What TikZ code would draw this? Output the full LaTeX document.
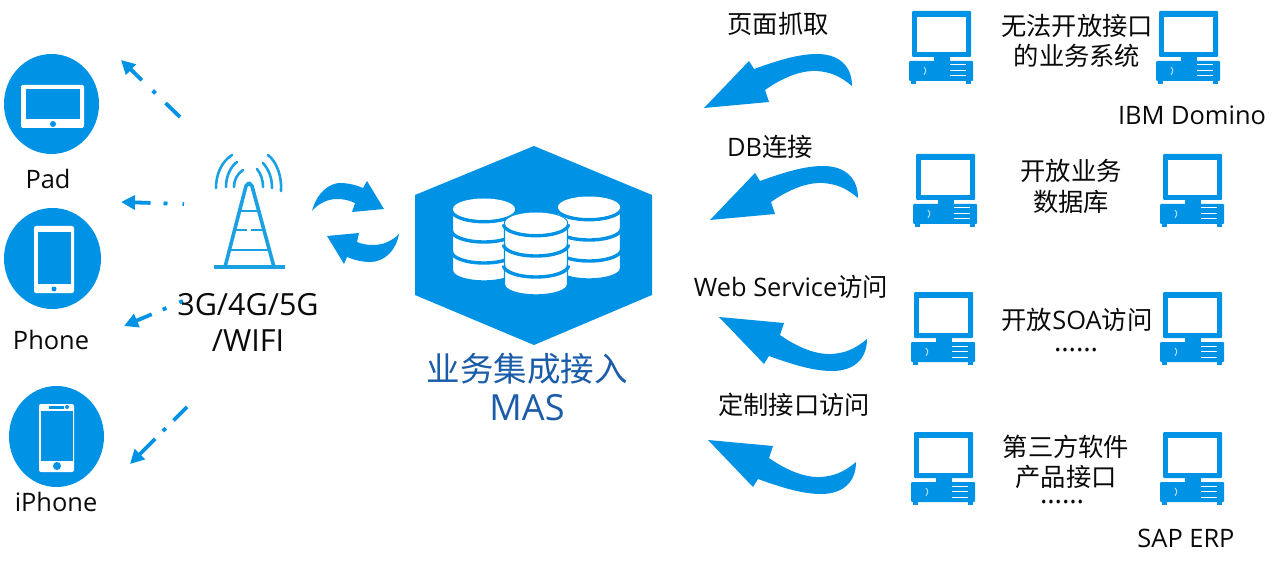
\documentclass[tikz,border=0pt]{standalone}
\usepackage{fontspec}
\setmainfont{Open Sans}
\newfontfamily\cjk{Noto Sans CJK SC}
\usetikzlibrary{arrows.meta}
\definecolor{mblue}{HTML}{0093E5}
\definecolor{tblue}{HTML}{1BA1E2}
\definecolor{dblue}{HTML}{1A5CA8}
\definecolor{ink}{HTML}{0A0A0A}
\newcommand{\fsz}[1]{\fontsize{#1pt}{#1pt}\selectfont}
\tikzset{
  x=1pt,y=-1pt,
  lbl/.style={anchor=base,inner sep=0pt,text=ink,font=\fsz{25.4}},
  zh/.style={anchor=base,inner sep=0pt,text=ink,font=\fsz{25.3}\cjk},
  dotsl/.style={anchor=base,inner sep=0pt,text=ink,font=\fsz{28},text height=4pt,text depth=0pt},
  flow/.style={draw=mblue,line width=3.8pt,-{Triangle[length=14pt,width=14pt]}},
  tw/.style={draw=tblue,line width=2.6pt,line cap=round},
  pics/computer/.style={code={
    \fill[mblue,rounded corners=1pt] (3,0) rectangle (62,46);
    \fill[white] (8,6) rectangle (57,41);
    \fill[mblue] (25,46) rectangle (41,51);
    \fill[mblue,rounded corners=1pt] (0,50) rectangle (64,70);
    \fill[mblue] (2,69) rectangle (7,73);
    \fill[mblue] (57,69) rectangle (62,73);
    \draw[white,line width=1pt,opacity=.7] (15,56) arc[start angle=-50,end angle=50,radius=5];
    \foreach \yy in {54,59.5,65} \draw[white,line width=1pt] (41,\yy) -- (57,\yy);
  }},
  pics/swoosh/.style={code={
    \fill[mblue] (0,0) -- (45,-47) -- (50,-39)
      .. controls (75,-48) and (95,-54) .. (113,-54)
      .. controls (135,-54) and (148,-42) .. (148,-22)
      .. controls (135,-33) and (125,-36) .. (113,-37)
      .. controls (95,-38) and (75,-28) .. (61,-18)
      -- (65,-6) -- cycle;
  }},
  pics/db/.style={code={
    \fill[white,draw=mblue,line width=1.4pt] (-31.5,0) -- (-31.5,61.5) arc[start angle=180,end angle=0,x radius=31.5,y radius=10.5] -- (31.5,0) arc[start angle=0,end angle=-180,x radius=31.5,y radius=10.5] -- cycle;
    \foreach \yy in {1.2,21.5,42.5}
      \draw[mblue,line width=3.4pt] (-32.5,\yy) arc[start angle=180,end angle=0,x radius=32.5,y radius=11.5];
    \fill[white] (0,0) ellipse[x radius=31,y radius=10.5];
  }}
}
\begin{document}
\begin{tikzpicture}
\useasboundingbox (0,0) rectangle (1283,564);
\fill[white] (0,0) rectangle (1283,564);

% device circles
\fill[mblue] (51.5,104) ellipse[x radius=47.5,y radius=50];
\fill[white,rounded corners=1.5pt] (21,85) rectangle (84,128);
\fill[mblue] (26,89) rectangle (80,119);
\fill[mblue] (53,124) circle[radius=3];

\fill[mblue] (52.5,258.5) ellipse[x radius=48.5,y radius=50.5];
\fill[white,rounded corners=2pt] (34,226) rectangle (74,293);
\fill[mblue] (38,232) rectangle (71,284);
\fill[mblue] (54,289) circle[radius=2.5];

\fill[mblue] (56.5,436.5) ellipse[x radius=47.5,y radius=50.5];
\fill[white,rounded corners=2pt] (39,404) rectangle (74,472);
\fill[mblue] (41,411) rectangle (73,461);
\fill[mblue] (49,405.5) rectangle (64,409);
\fill[mblue] (67,407) circle[radius=2];
\fill[mblue] (57,466) circle[radius=4];

% dashed connectors
\coordinate (t1) at (180,117); \coordinate (h1) at (121,60);
\coordinate (t2) at (184,204); \coordinate (h2) at (121,202);
\coordinate (t3) at (183,301); \coordinate (h3) at (124,326);
\coordinate (t4) at (187,407); \coordinate (h4) at (130,464);
\draw[flow,dash pattern=on 20pt off 14pt on 4pt off 15pt on 60pt] (t1) -- (h1);
\draw[flow,dash pattern=on 1.5pt off 15pt on 4pt off 13pt on 60pt] (t2) -- (h2);
\draw[flow,dash pattern=on 4pt off 14pt on 4pt off 12pt on 60pt] (t3) -- (h3);
\draw[flow,dash pattern=on 19pt off 11pt on 4pt off 11pt on 60pt] (t4) -- (h4);

% tower
\draw[tblue,line width=4pt] (214,267) -- (285,267);
\draw[tblue,line width=3.6pt,line join=round] (225,267) -- (246,186) -- (249,183) -- (252,186) -- (274,267);
\draw[tblue,line width=1.8pt] (241,211) -- (258,211);
\draw[tblue,line width=1.6pt] (236,230) -- (247,230) (251,230) -- (263,230);
\draw[tblue,line width=2.2pt] (231,250) -- (268,250);
\draw[tw] (232,155) .. controls (221,162) and (216,175) .. (216,188);
\draw[tw] (237,162) .. controls (230,167) and (226,177) .. (226,187);
\draw[tw] (243,170) .. controls (237,174) and (234,180) .. (234,187);
\draw[tw] (268,155) .. controls (277,162) and (282,177) .. (281,191);
\draw[tw] (263,163) .. controls (269,170) and (272,178) .. (272,188);
\draw[tw] (257,169) .. controls (261,174) and (263,180) .. (263,187);

% exchange arrows
\fill[mblue] (312,211) .. controls (317,192) and (330,183) .. (340,183)
  .. controls (348,183) and (356,185) .. (363,188) -- (367,181) -- (384,209) -- (352,212) -- (355,203)
  .. controls (349,200) and (343,199) .. (337,199) .. controls (327,199) and (318,204) .. (312,211) -- cycle;
\fill[mblue] (399,234) .. controls (392,241) and (383,245) .. (373,245)
  .. controls (367,245) and (362,244) .. (357,242) -- (359,233) -- (327,236) -- (344,264) -- (347,257)
  .. controls (354,260) and (362,262) .. (370,262) .. controls (384,262) and (396,251) .. (399,234) -- cycle;

% hexagon
\fill[mblue] (534,146) -- (652,195) -- (652,295) -- (534,345) -- (415,295) -- (415,195) -- cycle;
\pic at (484,209) {db};
\pic at (589,207) {db};
\pic at (536,223) {db};

% swooshes
\pic at (704,108) {swoosh};
\pic at (710,220) {swoosh};
\pic[yscale=-1] at (719,317) {swoosh};
\pic[yscale=-1] at (708,440) {swoosh};

% computers
\pic at (909,11) {computer};
\pic at (1156,11) {computer};
\pic at (913,154) {computer};
\pic at (1160,154) {computer};
\pic at (911,292) {computer};
\pic at (1160,292) {computer};
\pic at (911,432) {computer};
\pic at (1160,432) {computer};

% labels
\node[lbl] (pad) at (48,189) {Pad};
\node[lbl] (phone) at (51,349) {Phone};
\node[lbl] (iphone) at (56,511) {iPhone};
\node[lbl,font=\fsz{30.5}] (g1) at (248,316) {3G/4G/5G};
\node[lbl,font=\fsz{30.5}] (g2) at (248,351) {/WIFI};
\node[zh,text=dblue,font=\fsz{33.5}\cjk] (m1) at (527,381) {业务集成接入};
\node[lbl,text=dblue,font=\fsz{36}] (m2) at (527,420) {MAS};
\node[zh] (r1) at (778,34) {页面抓取};
\node[lbl] (r2) at (770,157) {DB{\cjk 连接}};
\node[lbl] (r3) at (791,296) {Web Service{\cjk 访问}};
\node[zh] (r4) at (794,414) {定制接口访问};
\node[zh] (s1) at (1077,36) {无法开放接口};
\node[zh] (s2) at (1077,66) {的业务系统};
\node[lbl] (s3) at (1192,125) {IBM Domino};
\node[zh] (s4) at (1071,181) {开放业务};
\node[zh] (s5) at (1071,212) {数据库};
\node[lbl] (s6) at (1077,329) {{\cjk 开放}SOA{\cjk 访问}};
\node[dotsl] (s7) at (1076,351) {……};
\node[zh] (s8) at (1066,456) {第三方软件};
\node[zh] (s9) at (1066,486) {产品接口};
\node[dotsl] (s10) at (1062,503) {……};
\node[lbl] (s11) at (1186,547) {SAP ERP};
\end{tikzpicture}
\end{document}
